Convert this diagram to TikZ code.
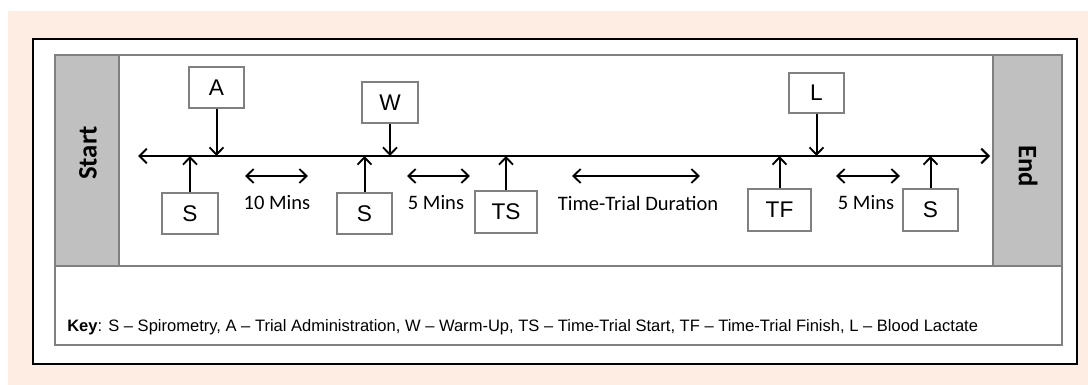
\documentclass[tikz,border=0pt]{standalone}
\usepackage{fontspec}
\setmainfont{Liberation Sans}
\newfontfamily\calibri{Carlito}
\usetikzlibrary{arrows.meta}
\definecolor{peach}{RGB}{253,237,227}
\definecolor{colgrey}{RGB}{192,192,192}
\definecolor{edgegrey}{RGB}{128,128,128}
\tikzset{
  tbox/.style={draw=edgegrey, line width=0.9pt, fill=white, inner sep=0pt,
    font=\fontsize{17}{18}\selectfont},
  marker/.style={line width=1.5pt, -{Straight Barb[length=5.5pt,width=10.5pt,line width=1.4pt]}},
  span/.style={line width=1.5pt, {Straight Barb[length=5.5pt,width=10.5pt,line width=1.4pt]}-{Straight Barb[length=5.5pt,width=10.5pt,line width=1.4pt]}},
  lbl/.style={font=\calibri\fontsize{15.4}{16}\selectfont, inner sep=0pt},
  endlbl/.style={font=\calibri\bfseries\fontsize{20}{21}\selectfont, inner sep=0pt},
}
\begin{document}
\begin{tikzpicture}[x=0.75pt,y=-0.75pt]
\useasboundingbox (0,0) rectangle (1088,385);
% backgrounds
\fill[peach] (8,11) rectangle (1088,385);
\draw[line width=2pt, fill=white] (33,39) rectangle (1077,364);
\fill[colgrey] (55,55) rectangle (119,266);
\fill[colgrey] (993,55) rectangle (1062,266);
\draw[edgegrey, line width=1pt] (119,55) -- (119,266);
\draw[edgegrey, line width=1pt] (993,55) -- (993,266);
\draw[edgegrey, line width=1.3pt] (55,55) rectangle (1062,345);
\draw[edgegrey, line width=1.3pt] (55,266) -- (1062,266);
% side labels
\node[endlbl, rotate=90] (start) at (88,153) {Start};
\node[endlbl, rotate=-90] (end) at (1028,166) {End};
% timeline
\coordinate (L0) at (138,156);
\coordinate (R0) at (990,156);
\draw[line width=2pt, {Straight Barb[length=5.5pt,width=11pt,line width=1.5pt]}-{Straight Barb[length=5.5pt,width=11pt,line width=1.5pt]}] (L0) -- (R0);
% top boxes
\node[tbox, minimum width=41.25pt, minimum height=30.75pt] (A) at (216.5,87.5) {A};
\node[tbox, minimum width=42pt, minimum height=30.75pt] (W) at (390,102.5) {W};
\node[tbox, minimum width=41.25pt, minimum height=30pt] (L) at (816.5,93) {L};
% bottom boxes
\node[tbox, minimum width=42pt, minimum height=30.75pt] (S1) at (190,213.5) {S};
\node[tbox, minimum width=41.25pt, minimum height=30.75pt] (S2) at (364.5,213.5) {S};
\node[tbox, minimum width=46.5pt, minimum height=31.5pt] (TS) at (506,212) {TS};
\node[tbox, minimum width=47.25pt, minimum height=31.5pt] (TF) at (779.5,210) {TF};
\node[tbox, minimum width=41.25pt, minimum height=31.5pt] (S3) at (930.5,210) {S};
% markers
\foreach \n in {A,W,L} \draw[marker] (\n.south) -- (\n.south |- L0);
\foreach \n in {S1,S2,TS,TF,S3} \draw[marker] (\n.north) -- (\n.north |- L0);
% spans
\coordinate (a1) at (245,176); \coordinate (a2) at (308,176);
\coordinate (b1) at (407,176); \coordinate (b2) at (470,176);
\coordinate (c1) at (572,176); \coordinate (c2) at (700,176);
\coordinate (d1) at (836,176); \coordinate (d2) at (900,176);
\draw[span] (a1) -- (a2);
\draw[span] (b1) -- (b2);
\draw[span] (c1) -- (c2);
\draw[span] (d1) -- (d2);
\node[lbl] (t1) at (277,203) {10 Mins};
\node[lbl] (t2) at (436,203) {5 Mins};
\node[lbl] (t3) at (638,203) {Time-Trial Duration};
\node[lbl] (t4) at (866,203) {5 Mins};
% key
\node[anchor=west, inner sep=0pt, font=\fontsize{12.4}{14}\selectfont] (key) at (67,327)
  {\textbf{Key}: S -- Spirometry, A -- Trial Administration, W -- Warm-Up, TS -- Time-Trial Start, TF -- Time-Trial Finish, L -- Blood Lactate};
\end{tikzpicture}
\end{document}
